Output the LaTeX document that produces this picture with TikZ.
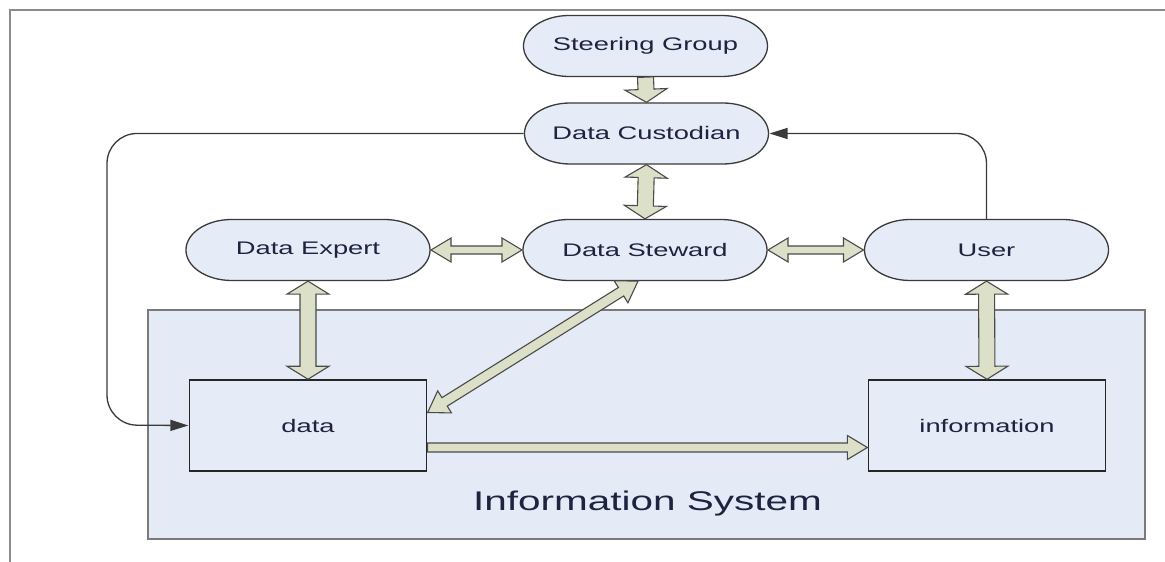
\documentclass[tikz,border=0pt]{standalone}
\usepackage{fontspec}
\setmainfont{Liberation Sans}
\usetikzlibrary{calc,shapes.misc,arrows.meta}
\definecolor{nodefill}{HTML}{E6ECF7}
\definecolor{isfill}{HTML}{E5EBF6}
\definecolor{arrfill}{HTML}{DCE0C8}
\definecolor{arrline}{HTML}{4A4A4A}
\definecolor{nodeline}{HTML}{3A3A3A}
\definecolor{txt}{HTML}{1C2440}
\definecolor{framec}{HTML}{8C8C8C}
\definecolor{isline}{HTML}{7A7A7A}

% single fat arrow: #1 start, #2 end, #3 shaft half width, #4 head half width, #5 head length
\newcommand{\fatsingle}[5]{%
  \path (#1) coordinate (faS) (#2) coordinate (faE);
  \path ($(faE)!#5!(faS)$) coordinate (faH);
  \draw[fatarrow] ($(faS)!#3!90:(faE)$) -- ($(faH)!#3!90:(faE)$) -- ($(faH)!#4!90:(faE)$) -- (faE)
     -- ($(faH)!#4!-90:(faE)$) -- ($(faH)!#3!-90:(faE)$) -- ($(faS)!#3!-90:(faE)$) -- cycle;
}
% double fat arrow
\newcommand{\fatdouble}[5]{%
  \path (#1) coordinate (faS) (#2) coordinate (faE);
  \path ($(faE)!#5!(faS)$) coordinate (faH) ($(faS)!#5!(faE)$) coordinate (faG);
  \draw[fatarrow] (faS) -- ($(faG)!#4!90:(faE)$) -- ($(faG)!#3!90:(faE)$) -- ($(faH)!#3!90:(faE)$)
     -- ($(faH)!#4!90:(faE)$) -- (faE) -- ($(faH)!#4!-90:(faE)$) -- ($(faH)!#3!-90:(faE)$)
     -- ($(faG)!#3!-90:(faE)$) -- ($(faG)!#4!-90:(faE)$) -- cycle;
}

\tikzset{
  pill/.style={rounded rectangle, draw=nodeline, fill=nodefill, line width=1.3pt,
    minimum width=162.7pt, minimum height=61pt, inner sep=0pt,
    font=\fontsize{18.2}{22}\selectfont, text=txt},
  databox/.style={rectangle, draw=black!85, fill=nodefill, line width=1.5pt,
    minimum width=158pt, minimum height=91pt, inner sep=0pt,
    font=\fontsize{18.2}{22}\selectfont, text=txt},
  isbox/.style={rectangle, draw=isline, fill=isfill, line width=2pt, inner sep=0pt},
  fatarrow/.style={draw=arrline, fill=arrfill, line width=1.1pt, line join=miter},
  thinline/.style={draw=nodeline, line width=1.3pt, rounded corners=30pt,
    -{Triangle[length=18pt,width=11pt]}},
}

\begin{document}
\begin{tikzpicture}[x=1pt,y=1pt]
\useasboundingbox (0,0) rectangle (1165,562);
\fill[white] (0,0) rectangle (1165,562);
% outer frame (cropped)
\draw[framec, line width=2.5pt] (10,0) -- (10,552) -- (1165,552);

% information system area
\node[isbox, minimum width=997pt, minimum height=229pt] (is) at (646.5,137.5) {};

\begin{scope}[xscale=1.5, transform shape]
  \node[pill] (steer)  at (645.5/1.5,516) {Steering Group};
  \node[pill] (cust)   at (646.5/1.5,428.5) {Data Custodian};
  \node[pill] (expert) at (308/1.5,312) {Data Expert};
  \node[pill] (stew)   at (645/1.5,312) {Data Steward};
  \node[pill] (user)   at (986.5/1.5,312) {User};
  \node[databox] (data) at (308/1.5,136.5) {data};
  \node[databox] (info) at (987/1.5,136.5) {information};
  \node[font=\fontsize{27}{30}\selectfont, text=txt, anchor=base, inner sep=0pt]
     (islabel) at (647.5/1.5,51) {Information System};
\end{scope}

% thin connectors
\coordinate (lc) at (107,137);
\draw[thinline] (cust.west) -| (lc) -- (data.west);
\draw[thinline] (user.north) |- (cust.east);

% fat arrows
\fatsingle{steer.south}{cust.north}{8pt}{21pt}{13pt}
\fatdouble{cust.south}{stew.north}{8pt}{21pt}{13pt}
\fatdouble{expert.east}{stew.west}{4pt}{12pt}{20pt}
\fatdouble{stew.east}{user.west}{4pt}{12pt}{20pt}
\fatdouble{expert.south}{data.north}{8pt}{21pt}{13pt}
\fatdouble{user.south}{info.north}{8pt}{21pt}{13pt}
\fatdouble{[yshift=13pt]data.east}{[xshift=-7pt]stew.south}{5pt}{13pt}{20pt}
\fatsingle{[yshift=-22pt]data.east}{[yshift=-22pt]info.west}{4.5pt}{12pt}{20pt}
\end{tikzpicture}
\end{document}
